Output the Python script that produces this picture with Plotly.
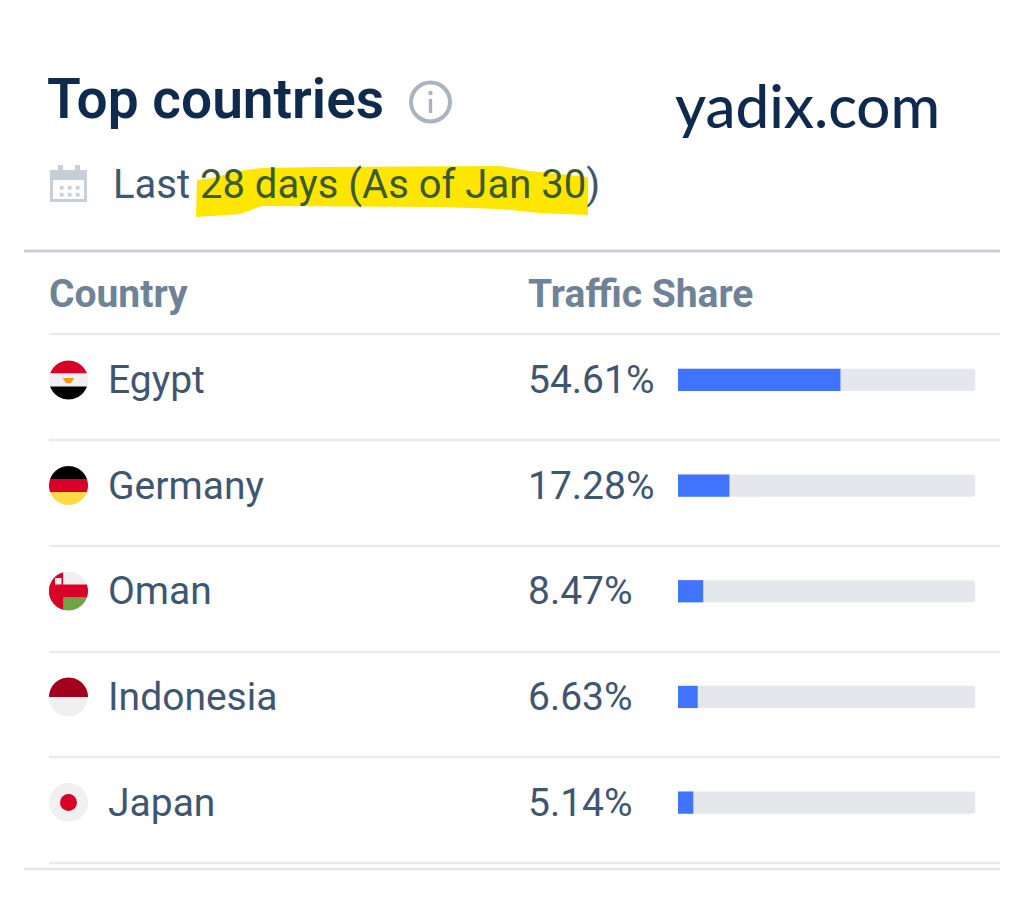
import numpy as np
import plotly.graph_objects as go

countries = ["Egypt", "Germany", "Oman", "Indonesia", "Japan"]
shares = [54.61, 17.28, 8.47, 6.63, 5.14]
full_scale = [100, 100, 100, 100, 100]
title_text = "Top countries"
brand_text = "yadix.com"
header_left = "Country"
header_right = "Traffic Share"

W, H = 1024, 918
NAVY, SLATE, GREY = "#0f2a4d", "#3f5671", "#6f8296"
RED, LIGHT = "#d80027", "#f0f0f0"


def px(x):
    return x / W


def py(y):
    return 1 - y / H


def poly(points, color, layer="below"):
    d = "M" + " L".join(f"{px(x):.5f},{py(y):.5f}" for x, y in points) + " Z"
    return dict(type="path", xref="paper", yref="paper", path=d, fillcolor=color,
                line_width=0, layer=layer)


def line(x0, y0, x1, y1, color, width):
    return dict(type="line", xref="paper", yref="paper", x0=px(x0), x1=px(x1),
                y0=py(y0), y1=py(y1), line=dict(color=color, width=width), layer="below")


def rect(x0, y0, x1, y1, color):
    return poly([(x0, y0), (x1, y0), (x1, y1), (x0, y1)], color)


def disc(cx, cy, r, color, outline=None, lw=0):
    return dict(type="circle", xref="paper", yref="paper", x0=px(cx - r), x1=px(cx + r),
                y0=py(cy - r), y1=py(cy + r), fillcolor=color if outline is None else "rgba(0,0,0,0)",
                line=dict(color=outline or color, width=lw), layer="below")


def band(cx, cy, r, a, b, color, vertical=False):
    """Part of a flag disc between offsets a and b from the centre."""
    t = np.linspace(a, b, 24)
    half = np.sqrt(np.maximum(r * r - t * t, 0))
    if vertical:
        pts = [(cx + u, cy - h) for u, h in zip(t, half)] + [(cx + u, cy + h) for u, h in zip(t[::-1], half[::-1])]
    else:
        pts = [(cx - h, cy + u) for u, h in zip(t, half)] + [(cx + h, cy + u) for u, h in zip(t[::-1], half[::-1])]
    return poly(pts, color)


ROW_Y = [380, 485.5, 591, 697, 802.5]
FX, FR = 68.5, 19.5
shapes = []

# highlighter stroke
shapes.append(poly([(196, 217), (197, 180), (212, 178), (240, 171), (262, 168), (320, 167), (500, 166),
                    (530, 171), (588, 177), (588, 215), (540, 213), (500, 209), (440, 207), (262, 206),
                    (240, 214), (196, 217)], "#ffe600"))

# rules
shapes.append(line(24, 251, 1000, 251, "#c9d1da", 3))
shapes.append(line(24, 869, 1000, 869, "#e3e7eb", 2.5))
for y in [334, 440, 546, 652, 757, 863]:
    shapes.append(line(49, y, 1000, y, "#e8ebef", 2.5))

# info icon
shapes.append(disc(430.5, 102, 19.5, None, outline="#a9b4c0", lw=4))
shapes.append(rect(428.8, 99, 432.2, 113, "#a9b4c0"))
shapes.append(disc(430.5, 93, 2.2, "#a9b4c0"))

# calendar icon
CAL = "#c6cfd8"
shapes.append(rect(50, 170, 87, 202, CAL))
shapes.append(rect(53, 180, 84, 199, "#ffffff"))
shapes.append(rect(58, 165, 63, 172, CAL))
shapes.append(rect(75, 165, 80, 172, CAL))
for dy in (186, 193):
    for dx in (60, 68, 76):
        shapes.append(rect(dx, dy, dx + 3.5, dy + 3.5, CAL))

# flags
y = ROW_Y[0]
shapes += [band(FX, y, FR, -FR, -6.5, RED), band(FX, y, FR, -6.5, 6.5, LIGHT), band(FX, y, FR, 6.5, FR, "#000000"),
           poly([(FX - 6, y - 2), (FX + 6, y - 2), (FX + 2.5, y + 3), (FX - 2.5, y + 3)], "#ff9811")]
y = ROW_Y[1]
shapes += [band(FX, y, FR, -FR, -6.5, "#000000"), band(FX, y, FR, -6.5, 6.5, RED), band(FX, y, FR, 6.5, FR, "#ffda44")]
y = ROW_Y[2]
shapes += [band(FX, y, FR, -FR, -6.5, LIGHT), band(FX, y, FR, 6.5, FR, "#6da544"), band(FX, y, FR, -6.5, 6.5, RED),
           band(FX, y, FR, -FR, -5.4, RED, vertical=True), rect(55, y - 13, 61.5, y - 6.5, LIGHT)]
y = ROW_Y[3]
shapes += [band(FX, y, FR, -FR, 0, "#a2001d"), band(FX, y, FR, 0, FR, LIGHT)]
y = ROW_Y[4]
shapes += [disc(FX, y, FR, LIGHT), disc(FX, y, 8.5, RED)]

fig = go.Figure()
fig.add_bar(y=countries, x=full_scale, orientation="h", width=0.21,
            marker=dict(color="#e4e7eb", cornerradius=3, line_width=0), hoverinfo="skip")
fig.add_bar(y=countries, x=shares, orientation="h", width=0.21,
            marker=dict(color="#4074ff", cornerradius=2, line_width=0))


def label(x, y, text, size, color, family="Roboto", yref="paper", weight=None):
    font = dict(family=family, size=size, color=color)
    if weight:
        font["weight"] = weight
    return dict(x=px(x), xref="paper", y=py(y) if yref == "paper" else y, yref=yref, text=text,
                xanchor="left", yanchor="middle", showarrow=False, font=font)


ann = [
    label(45, 99, title_text, 55, NAVY, weight=600),
    label(673, 105, brand_text, 60, "#10294f", family="Lato", weight=500),
    label(111, 184, "Last <span style='color:#3d5a2e'>28 days (As of Jan 30</span>)", 40, SLATE),
    label(47, 294, header_left, 39, GREY, weight=700),
    label(526, 294, header_right, 39, GREY, weight=700),
]
for name, share in zip(countries, shares):
    ann.append(label(105.5, name, name, 39, SLATE, yref="y"))
    ann.append(label(526, name, f"{share:.2f}%", 39, SLATE, yref="y"))

fig.update_layout(
    width=W, height=H, autosize=False, margin=dict(l=0, r=0, t=0, b=0),
    paper_bgcolor="white", plot_bgcolor="rgba(0,0,0,0)", barmode="overlay", showlegend=False,
    shapes=shapes, annotations=ann,
    xaxis=dict(domain=[px(678), px(975.5)], range=[0, 100], visible=False, fixedrange=True),
    yaxis=dict(domain=[py(855.5), py(327)], range=[4.5, -0.5], type="category",
               categoryorder="array", categoryarray=countries, visible=False, fixedrange=True),
)
fig.write_html("out.html", config=dict(displayModeBar=False),
               post_script="document.body.style.margin='0';document.body.style.overflow='hidden';")
